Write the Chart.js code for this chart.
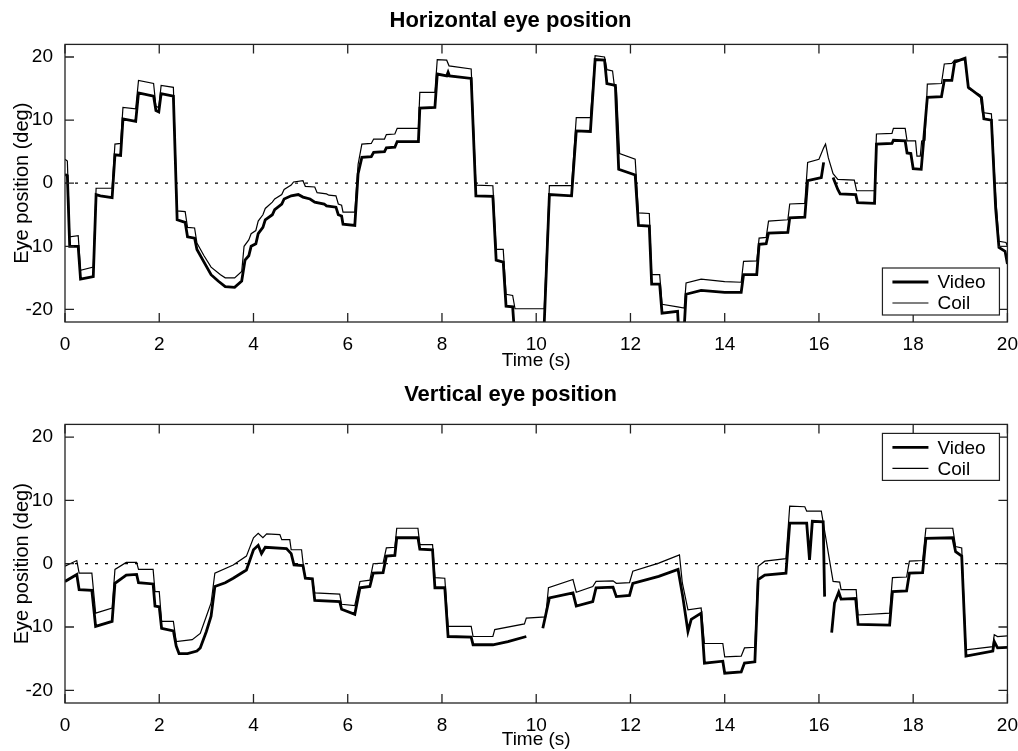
<!DOCTYPE html>
<html>
<head>
<meta charset="utf-8">
<script src="https://cdn.jsdelivr.net/npm/chart.js@4.4.1/dist/chart.umd.min.js"></script>
<style>
  body { margin: 0; background: #fff; overflow: hidden; }
  .panel { position: absolute; left: 0; width: 1018px; height: 375px; overflow: hidden; }
</style>
</head>
<body>
<div class="panel" style="top:0"><canvas id="hChart" width="1021" height="375"></canvas></div>
<div class="panel" style="top:376px"><canvas id="vChart" width="1021" height="375"></canvas></div>
<script>
// Horizontal eye position (deg) vs time (s)
const hVideoT = [0, 0.05, 0.1, 0.28, 0.33, 0.6, 0.66, 0.75, 1.0, 1.06, 1.18, 1.23, 1.5, 1.56, 1.88, 1.93, 1.99, 2.04, 2.3, 2.38,
  2.55, 2.6, 2.75, 2.8, 2.95, 3.1, 3.25, 3.4, 3.6, 3.75, 3.82, 3.9, 3.95, 4.05, 4.1, 4.2, 4.25, 4.4, 4.45, 4.6,
  4.65, 4.8, 4.95, 5.05, 5.2, 5.3, 5.5, 5.55, 5.75, 5.8, 5.87, 5.9, 6.15, 6.22, 6.3, 6.5, 6.55, 6.78, 6.82, 7.0,
  7.05, 7.5, 7.53, 7.85, 7.9, 8.1, 8.13, 8.16, 8.62, 8.72, 9.08, 9.15, 9.3, 9.36, 9.5, 9.56, 10.15, 10.28, 10.75, 10.85,
  11.15, 11.25, 11.45, 11.5, 11.68, 11.75, 12.1, 12.17, 12.4, 12.45, 12.62, 12.67, 13.0, 13.02, 13.14, 13.18, 13.5, 14.0, 14.35, 14.4,
  14.68, 14.73, 14.88, 14.93, 15.34, 15.38, 15.7, 15.76, 16.05, 16.1, 16.12, 16.3, 16.4, 16.45, 16.78, 16.82, 17.18, 17.22, 17.55, 17.58,
  17.83, 17.87, 17.95, 18.0, 18.17, 18.3, 18.6, 18.66, 18.82, 18.88, 19.1, 19.17, 19.45, 19.5, 19.66, 19.75, 19.82, 19.95, 20.0];
const hVideoY = [1.4, 1.2, -10.0, -10.0, -15.2, -14.8, -1.8, -2.0, -2.3, 4.5, 4.4, 10.2, 9.8, 14.3, 13.8, 11.5, 11.3, 14.2, 13.8, -5.8,
  -6.2, -8.5, -8.7, -10.5, -12.5, -14.5, -15.5, -16.4, -16.5, -15.5, -12.2, -11.5, -10.0, -9.6, -8.0, -7.0, -5.8, -5.0, -4.2, -3.3,
  -2.5, -2.0, -1.8, -2.2, -2.5, -3.0, -3.3, -3.6, -3.8, -5.0, -5.2, -6.5, -6.7, 1.5, 4.1, 4.2, 4.9, 5.0, 5.6, 5.7,
  6.6, 6.6, 11.9, 12.0, 17.3, 17.0, 17.6, 17.0, 16.6, -2.0, -2.1, -12.2, -12.5, -19.5, -19.6, -26, -26, -1.8, -2.0, 8.3,
  8.2, 19.6, 19.5, 15.8, 15.5, 2.2, 1.3, -6.7, -6.8, -16.0, -16.0, -20.6, -20.3, -23, -23, -17.6, -17.0, -17.3, -17.3, -14.5,
  -14.5, -9.7, -9.6, -7.9, -7.8, -5.5, -5.4, 0.4, 0.9, 3.3, null, 0.9, -1.0, -1.7, -1.8, -3.1, -3.2, 6.2, 6.3, 6.8,
  6.7, 4.8, 4.7, 2.3, 2.2, 13.6, 13.7, 16.3, 16.3, 19.2, 19.8, 15.2, 13.6, 10.2, 10.0, -4, -10.2, -10.8, -12.8];

const hCoilT = [0, 0.05, 0.1, 0.28, 0.33, 0.6, 0.66, 1.0, 1.06, 1.18, 1.23, 1.5, 1.56, 1.88, 1.93, 1.99, 2.04, 2.3, 2.38, 2.55,
  2.6, 2.75, 2.8, 2.95, 3.1, 3.3, 3.4, 3.6, 3.75, 3.8, 3.9, 3.95, 4.05, 4.1, 4.2, 4.25, 4.4, 4.45, 4.6, 4.65,
  4.8, 4.85, 5.05, 5.1, 5.3, 5.35, 5.55, 5.6, 5.75, 5.8, 5.87, 5.9, 6.15, 6.22, 6.3, 6.5, 6.55, 6.78, 6.82, 7.0,
  7.05, 7.5, 7.53, 7.85, 7.9, 8.1, 8.15, 8.62, 8.72, 9.08, 9.15, 9.3, 9.36, 9.5, 9.55, 10.17, 10.28, 10.75, 10.85, 11.15,
  11.25, 11.45, 11.5, 11.62, 11.66, 11.7, 11.77, 12.1, 12.17, 12.4, 12.45, 12.62, 12.67, 13.0, 13.14, 13.18, 13.5, 14.0, 14.35, 14.4,
  14.68, 14.73, 14.88, 14.93, 15.34, 15.38, 15.7, 15.76, 16.0, 16.1, 16.14, 16.2, 16.3, 16.4, 16.75, 16.8, 17.18, 17.22, 17.55, 17.58,
  17.83, 17.87, 18.05, 18.08, 18.15, 18.18, 18.25, 18.3, 18.6, 18.66, 18.82, 18.88, 19.1, 19.17, 19.42, 19.47, 19.66, 19.75, 19.82, 19.97,
  20.0];
const hCoilY = [3.8, 3.5, -8.5, -8.3, -13.8, -13.3, -0.8, -0.8, 6.2, 6.3, 12.0, 11.8, 16.3, 15.8, 12.2, 12.0, 15.5, 15.2, -4.4, -4.5,
  -7.0, -7.1, -9.5, -11.5, -13.3, -14.5, -15.0, -15.0, -14.0, -10.0, -9.0, -8.0, -7.5, -6.0, -5.0, -4.0, -3.0, -2.5, -1.8, -1.0,
  -0.3, 0.2, 0.4, -0.5, -0.6, -1.5, -1.7, -1.9, -2.0, -3.3, -3.5, -4.6, -4.6, 3.0, 6.2, 6.3, 7.0, 7.0, 7.7, 7.8,
  8.7, 8.7, 14.4, 14.4, 19.6, 19.5, 18.6, 18.1, -0.3, -0.4, -10.5, -10.5, -17.6, -17.8, -19.9, -19.9, -0.4, -0.4, 10.4, 10.4,
  20.2, 20.0, 18.0, 17.8, 15.3, 15.2, 4.7, 3.8, -4.7, -4.8, -14.5, -14.5, -19.2, -19.6, -19.8, -15.8, -15.2, -15.6, -15.7, -12.4,
  -12.3, -8.7, -8.6, -6.0, -5.8, -3.3, -3.2, 3.3, 3.8, 5.6, 6.2, 4.0, 1.5, 0.6, 0.5, -1.2, -1.2, 7.8, 7.9, 8.7,
  8.7, 6.7, 6.7, 4.3, 4.3, 6.7, 6.8, 15.7, 15.8, 18.9, 19.0, 19.5, 19.6, 15.0, 14.0, 11.2, 11.0, -2, -9.2, -9.4,
  -10.0];

// Vertical eye position (deg) vs time (s)
const vVideoT = [0, 0.25, 0.3, 0.57, 0.65, 1.0, 1.06, 1.3, 1.52, 1.56, 1.87, 1.91, 2.0, 2.05, 2.3, 2.36, 2.42, 2.6, 2.8, 2.87,
  3.0, 3.1, 3.18, 3.4, 3.57, 3.85, 4.0, 4.1, 4.17, 4.25, 4.7, 4.8, 4.86, 5.05, 5.1, 5.25, 5.3, 5.83, 5.87, 6.15,
  6.26, 6.47, 6.54, 6.75, 6.82, 7.0, 7.04, 7.49, 7.53, 7.8, 7.85, 8.06, 8.13, 8.62, 8.66, 9.08, 9.4, 9.79, 9.8, 10.14,
  10.28, 10.78, 10.85, 11.2, 11.27, 11.63, 11.7, 11.98, 12.05, 12.6, 13.01, 13.11, 13.22, 13.29, 13.5, 13.57, 13.96, 14.0, 14.35, 14.42,
  14.64, 14.71, 14.85, 15.3, 15.38, 15.74, 15.8, 15.86, 16.09, 16.12, 16.2, 16.27, 16.33, 16.42, 16.47, 16.78, 16.83, 17.5, 17.56, 17.86,
  17.92, 18.2, 18.27, 18.84, 18.9, 19.03, 19.12, 19.69, 19.72, 19.79, 20.0];
const vVideoY = [-2.8, -1.7, -4.1, -4.2, -9.9, -9.1, -3.1, -1.8, -1.7, -3.0, -3.2, -6.7, -6.8, -10.2, -10.6, -13.0, -14.2, -14.2, -13.8, -13.3,
  -10.7, -8.3, -3.6, -3.0, -2.3, -1.0, 2.2, 2.9, 1.6, 2.6, 2.4, 1.6, -0.2, -0.3, -2.3, -2.4, -5.8, -6.0, -7.2, -8.0,
  -3.8, -3.6, -1.5, -1.4, 1.2, 1.3, 4.1, 4.1, 2.3, 2.2, -3.8, -3.8, -11.5, -11.6, -12.8, -12.8, -12.3, -11.5, null, -10.2,
  -5.4, -4.6, -6.7, -6.0, -3.8, -3.7, -5.2, -5.0, -3.1, -2.0, -0.9, -5.2, -10.7, -8.8, -7.8, -15.7, -15.4, -17.3, -17.1, -15.7,
  -15.5, -2.5, -1.8, -1.5, 6.4, 6.4, 0.6, 6.7, 6.6, -5.2, null, -10.9, -6.2, -4.5, -5.6, -5.5, -9.6, -9.7, -4.4, -4.3,
  -1.5, -1.4, 4.0, 4.1, 1.9, 1.2, -14.6, -13.8, -12.3, -13.3, -13.2];

const vCoilT = [0, 0.25, 0.3, 0.57, 0.65, 1.0, 1.06, 1.3, 1.52, 1.56, 1.87, 1.91, 2.0, 2.05, 2.3, 2.36, 2.7, 2.87, 3.0, 3.1,
  3.18, 3.57, 3.85, 4.0, 4.1, 4.2, 4.28, 4.56, 4.6, 4.77, 4.8, 5.02, 5.06, 5.1, 5.25, 5.3, 5.83, 5.87, 6.15, 6.26,
  6.47, 6.54, 6.75, 6.82, 7.0, 7.04, 7.49, 7.53, 7.8, 7.85, 8.06, 8.13, 8.62, 8.66, 9.08, 9.12, 9.75, 9.79, 10.2, 10.26,
  10.78, 10.85, 11.2, 11.27, 11.63, 11.7, 11.98, 12.05, 12.6, 13.04, 13.1, 13.22, 13.5, 13.57, 13.96, 14.0, 14.35, 14.42, 14.64, 14.71,
  14.85, 15.3, 15.38, 15.7, 15.74, 16.05, 16.3, 16.44, 16.47, 16.79, 16.83, 17.5, 17.56, 17.86, 17.92, 18.2, 18.27, 18.84, 18.9, 19.03,
  19.12, 19.69, 19.72, 19.79, 20.0];
const vCoilY = [-0.4, 0.5, -1.5, -1.5, -7.8, -7.0, -0.9, 0.2, 0.2, -0.9, -0.9, -4.4, -4.4, -9.1, -9.1, -12.3, -12.0, -11.0, -8.3, -6.2,
  -1.5, -0.2, 1.2, 4.1, 4.8, 4.1, 4.7, 4.6, 3.8, 3.8, 2.2, 2.2, -0.4, -2.2, -2.4, -4.6, -4.8, -6.4, -6.6, -2.8,
  -2.6, 0.0, 0.1, 2.5, 2.6, 5.6, 5.6, 3.0, 3.0, -2.2, -2.3, -9.9, -9.9, -11.5, -11.5, -10.4, -9.5, -8.6, -8.4, -3.8,
  -2.5, -4.5, -3.6, -2.8, -2.7, -3.1, -3.0, -1.2, 0.1, 1.4, -3.0, -7.3, -7.0, -12.6, -12.6, -14.7, -14.6, -13.3, -13.2, -0.4,
  0.4, 0.8, 9.1, 9.0, 8.3, 8.3, -2.8, -2.9, -4.1, -4.1, -8.1, -7.8, -2.2, -2.1, 0.4, 0.5, 5.6, 5.6, 2.7, 2.5,
  -13.6, -13.1, -11.2, -11.5, -11.4];

const zeroT = [0, 20];
const zeroY = [0, 0];
const xTicks = [0, 2, 4, 6, 8, 10, 12, 14, 16, 18, 20];
const yTicks = [-20, -10, 0, 10, 20];

const FONT = '"Liberation Sans", Arial, Helvetica, sans-serif';
Chart.defaults.font.family = FONT;
Chart.defaults.color = '#000';

function toPoints(ts, ys) {
  return ts.map((t, i) => ({ x: t, y: ys[i] }));
}

// frame round the plot area with inward tick marks on all four sides
const frameTicks = {
  id: 'frameTicks',
  afterDatasetsDraw(chart) {
    const { ctx, chartArea: a, scales } = chart;
    ctx.save();
    ctx.strokeStyle = '#222';
    ctx.lineWidth = 1.3;
    ctx.strokeRect(a.left, a.top, a.right - a.left, a.bottom - a.top);
    ctx.beginPath();
    xTicks.forEach(v => {
      const px = scales.x.getPixelForValue(v);
      ctx.moveTo(px, a.bottom); ctx.lineTo(px, a.bottom - 9);
      ctx.moveTo(px, a.top); ctx.lineTo(px, a.top + 9);
    });
    yTicks.forEach(v => {
      const py = scales.y.getPixelForValue(v);
      ctx.moveTo(a.left, py); ctx.lineTo(a.left + 9, py);
      ctx.moveTo(a.right, py); ctx.lineTo(a.right - 9, py);
    });
    ctx.stroke();
    ctx.restore();
  }
};

// boxed legend inside the plot area
const boxLegend = {
  id: 'boxLegend',
  afterDatasetsDraw(chart, args, opts) {
    const { ctx, chartArea: a } = chart;
    const sets = chart.data.datasets.filter(d => d.label);
    const w = 117, h = 47;
    const x0 = a.right - 8 - w;
    const y0 = opts.corner === 'top' ? a.top + 9 : a.bottom - 7 - h;
    ctx.save();
    ctx.fillStyle = '#fff';
    ctx.fillRect(x0, y0, w, h);
    ctx.strokeStyle = '#222';
    ctx.lineWidth = 1.2;
    ctx.strokeRect(x0, y0, w, h);
    ctx.font = '19px ' + FONT;
    ctx.textBaseline = 'middle';
    ctx.fillStyle = '#000';
    sets.forEach((d, i) => {
      const cy = y0 + 14 + i * 21;
      ctx.beginPath();
      ctx.lineWidth = d.borderWidth;
      ctx.strokeStyle = '#000';
      ctx.moveTo(x0 + 10, cy);
      ctx.lineTo(x0 + 46, cy);
      ctx.stroke();
      ctx.fillText(d.label, x0 + 55, cy + 1);
    });
    ctx.restore();
  }
};

function makeChart(id, title, video, coil, opt) {
  new Chart(document.getElementById(id), {
    type: 'scatter',
    data: {
      datasets: [
        { label: 'Video', data: video, showLine: true, borderColor: '#000', borderWidth: 2.8,
          pointRadius: 0, tension: 0, spanGaps: false },
        { label: 'Coil', data: coil, showLine: true, borderColor: '#000', borderWidth: 1.2,
          pointRadius: 0, tension: 0, spanGaps: false },
        { data: toPoints(zeroT, zeroY), showLine: true, borderColor: '#000', borderWidth: 1.3,
          borderDash: [3, 7], pointRadius: 0 }
      ]
    },
    options: {
      responsive: false,
      animation: false,
      layout: { padding: { left: 0, right: 0, top: 0, bottom: 0 } },
      plugins: {
        legend: { display: false },
        tooltip: { enabled: false },
        title: {
          display: true, text: title, color: '#000',
          font: { size: 22, weight: 'bold' },
          padding: opt.titlePad
        },
        boxLegend: { corner: opt.corner }
      },
      scales: {
        x: {
          type: 'linear', min: 0, max: 20,
          afterFit: s => { s.height = opt.xHeight; },
          afterBuildTicks: s => { s.ticks = xTicks.map(v => ({ value: v })); },
          ticks: { font: { size: 19 }, padding: 3, maxRotation: 0 },
          grid: { display: false },
          border: { display: false },
          title: { display: true, text: 'Time (s)', font: { size: 19 }, padding: { top: 0, bottom: opt.xTitlePad } }
        },
        y: {
          min: -22, max: 22,
          afterFit: s => { s.width = 65; },
          afterBuildTicks: s => { s.ticks = yTicks.map(v => ({ value: v })); },
          ticks: { font: { size: 19 }, padding: 4 },
          grid: { display: false },
          border: { display: false },
          title: { display: true, text: 'Eye position (deg)', font: { size: 20 }, padding: { top: 10, bottom: 0 } }
        }
      }
    },
    plugins: [frameTicks, boxLegend]
  });
}

makeChart('hChart', 'Horizontal eye position',
  toPoints(hVideoT, hVideoY), toPoints(hCoilT, hCoilY),
  { titlePad: { top: 8, bottom: 10 }, xHeight: 53, xTitlePad: 3, corner: 'bottom' });

makeChart('vChart', 'Vertical eye position',
  toPoints(vVideoT, vVideoY), toPoints(vCoilT, vCoilY),
  { titlePad: { top: 6, bottom: 16 }, xHeight: 48, xTitlePad: 0, corner: 'top' });
</script>
</body>
</html>
